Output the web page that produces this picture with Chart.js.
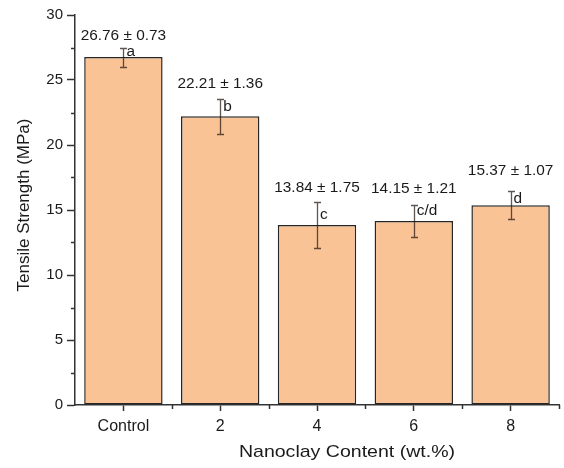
<!DOCTYPE html>
<html>
<head>
<meta charset="utf-8">
<script src="https://cdn.jsdelivr.net/npm/chart.js@4/dist/chart.umd.min.js"></script>
<style>
  html, body { margin: 0; padding: 0; background: #fff; }
  #wrap { width: 564px; height: 468px; }
</style>
</head>
<body>
<div id="wrap"><canvas id="c" width="564" height="468"></canvas></div>
<script>
// Tensile strength by nanoclay loading (mean ± SD, significance groups)
const categories = ['Control', '2', '4', '6', '8'];
const meanStrength = [26.76, 22.21, 13.84, 14.15, 15.37];
const sdStrength = [0.73, 1.36, 1.75, 1.21, 1.07];
const groupLetters = ['a', 'b', 'c', 'c/d', 'd'];
const yTicks = [0, 5, 10, 15, 20, 25, 30];

// label placement (pixels above / below the top of each error bar)
const valueLift = [11, 14, 14, 16, 20];
const letterDrop = [5, 9, 13, 6, 8];

const FONT = '"Liberation Sans", Arial, Helvetica, sans-serif';
const AXIS_COLOR = '#333333';
const ERR_COLOR = 'rgba(35, 22, 15, 0.72)';
const TEXT_COLOR = '#1a1a1a';

// text drawn slightly widened horizontally
function wideText(ctx, str, x, y, stretch, align) {
  ctx.save();
  ctx.translate(x, y);
  ctx.scale(stretch, 1);
  ctx.textAlign = align;
  ctx.fillText(str, 0, 0);
  ctx.restore();
}

// Minor ticks, error bars, value/letter labels and axis titles
const annotate = {
  id: 'annotate',
  afterDatasetsDraw(chart) {
    const { ctx, scales: { x, y }, chartArea } = chart;
    ctx.save();

    // minor ticks on y (halfway between majors)
    ctx.strokeStyle = AXIS_COLOR;
    ctx.lineWidth = 1.5;
    for (let i = 0; i < yTicks.length - 1; i++) {
      const v = (yTicks[i] + yTicks[i + 1]) / 2;
      const py = Math.round(y.getPixelForValue(v)) + 0.5;
      ctx.beginPath();
      ctx.moveTo(chartArea.left - 4, py);
      ctx.lineTo(chartArea.left, py);
      ctx.stroke();
    }
    // minor ticks on x (between categories)
    for (let i = 0; i < categories.length; i++) {
      const px = Math.round((x.getPixelForValue(i) + x.getPixelForValue(i + 1)) / 2) + 0.5;
      ctx.beginPath();
      ctx.moveTo(px, chartArea.bottom);
      ctx.lineTo(px, chartArea.bottom + 4);
      ctx.stroke();
    }

    // error bars
    ctx.strokeStyle = ERR_COLOR;
    ctx.lineWidth = 1.3;
    meanStrength.forEach((m, i) => {
      const cx = Math.round(x.getPixelForValue(i)) + 0.5;
      const top = Math.round(y.getPixelForValue(m + sdStrength[i])) + 0.5;
      const bot = Math.round(y.getPixelForValue(m - sdStrength[i])) + 0.5;
      ctx.beginPath();
      ctx.moveTo(cx, top); ctx.lineTo(cx, bot);
      ctx.moveTo(cx - 3.5, top); ctx.lineTo(cx + 3.5, top);
      ctx.moveTo(cx - 3.5, bot); ctx.lineTo(cx + 3.5, bot);
      ctx.stroke();
    });

    // value labels and group letters
    ctx.fillStyle = TEXT_COLOR;
    ctx.font = '14px ' + FONT;
    ctx.textBaseline = 'middle';
    meanStrength.forEach((m, i) => {
      const cx = x.getPixelForValue(i);
      const top = y.getPixelForValue(m + sdStrength[i]);
      wideText(ctx, m.toFixed(2) + ' \u00B1 ' + sdStrength[i].toFixed(2), cx, top - valueLift[i], 1.1, 'center');
      wideText(ctx, groupLetters[i], cx + 3, top + letterDrop[i], 1.1, 'left');
    });

    // axis titles
    ctx.font = '17px ' + FONT;
    ctx.fillStyle = TEXT_COLOR;
    ctx.textBaseline = 'middle';
    wideText(ctx, 'Nanoclay Content (wt.%)', 347, 452, 1.15, 'center');
    ctx.translate(24, 205);
    ctx.rotate(-Math.PI / 2);
    ctx.textAlign = 'center';
    ctx.fillText('Tensile Strength (MPa)', 0, 0);
    ctx.restore();
  }
};

new Chart(document.getElementById('c'), {
  type: 'bar',
  data: {
    labels: categories,
    datasets: [{
      data: meanStrength,
      backgroundColor: '#f9c396',
      borderColor: '#262626',
      borderWidth: 1.5,
      borderSkipped: false,
      barPercentage: 0.81,
      categoryPercentage: 1.0
    }]
  },
  options: {
    responsive: false,
    animation: false,
    devicePixelRatio: 1,
    layout: { padding: { left: 0, right: 5, top: 15, bottom: 0 } },
    plugins: { legend: { display: false }, tooltip: { enabled: false } },
    scales: {
      x: {
        offset: true,
        grid: {
          offset: false,
          drawOnChartArea: false,
          drawTicks: true,
          tickLength: 6,
          tickWidth: 1.5,
          tickColor: AXIS_COLOR
        },
        border: { display: true, color: AXIS_COLOR, width: 1.5 },
        ticks: {
          padding: 6,
          color: TEXT_COLOR,
          font: { family: FONT, size: 16 },
          maxRotation: 0
        },
        afterFit(scale) { scale.height = 63; }
      },
      y: {
        min: 0,
        max: 30,
        afterBuildTicks(scale) { scale.ticks = yTicks.map(v => ({ value: v })); },
        grid: {
          drawOnChartArea: false,
          drawTicks: true,
          tickLength: 8,
          tickWidth: 1.5,
          tickColor: AXIS_COLOR
        },
        border: { display: true, color: AXIS_COLOR, width: 1.5 },
        ticks: {
          padding: 4,
          color: TEXT_COLOR,
          font: { family: FONT, size: 15 }
        },
        afterFit(scale) { scale.width = 75; }
      }
    }
  },
  plugins: [annotate]
});
</script>
</body>
</html>
